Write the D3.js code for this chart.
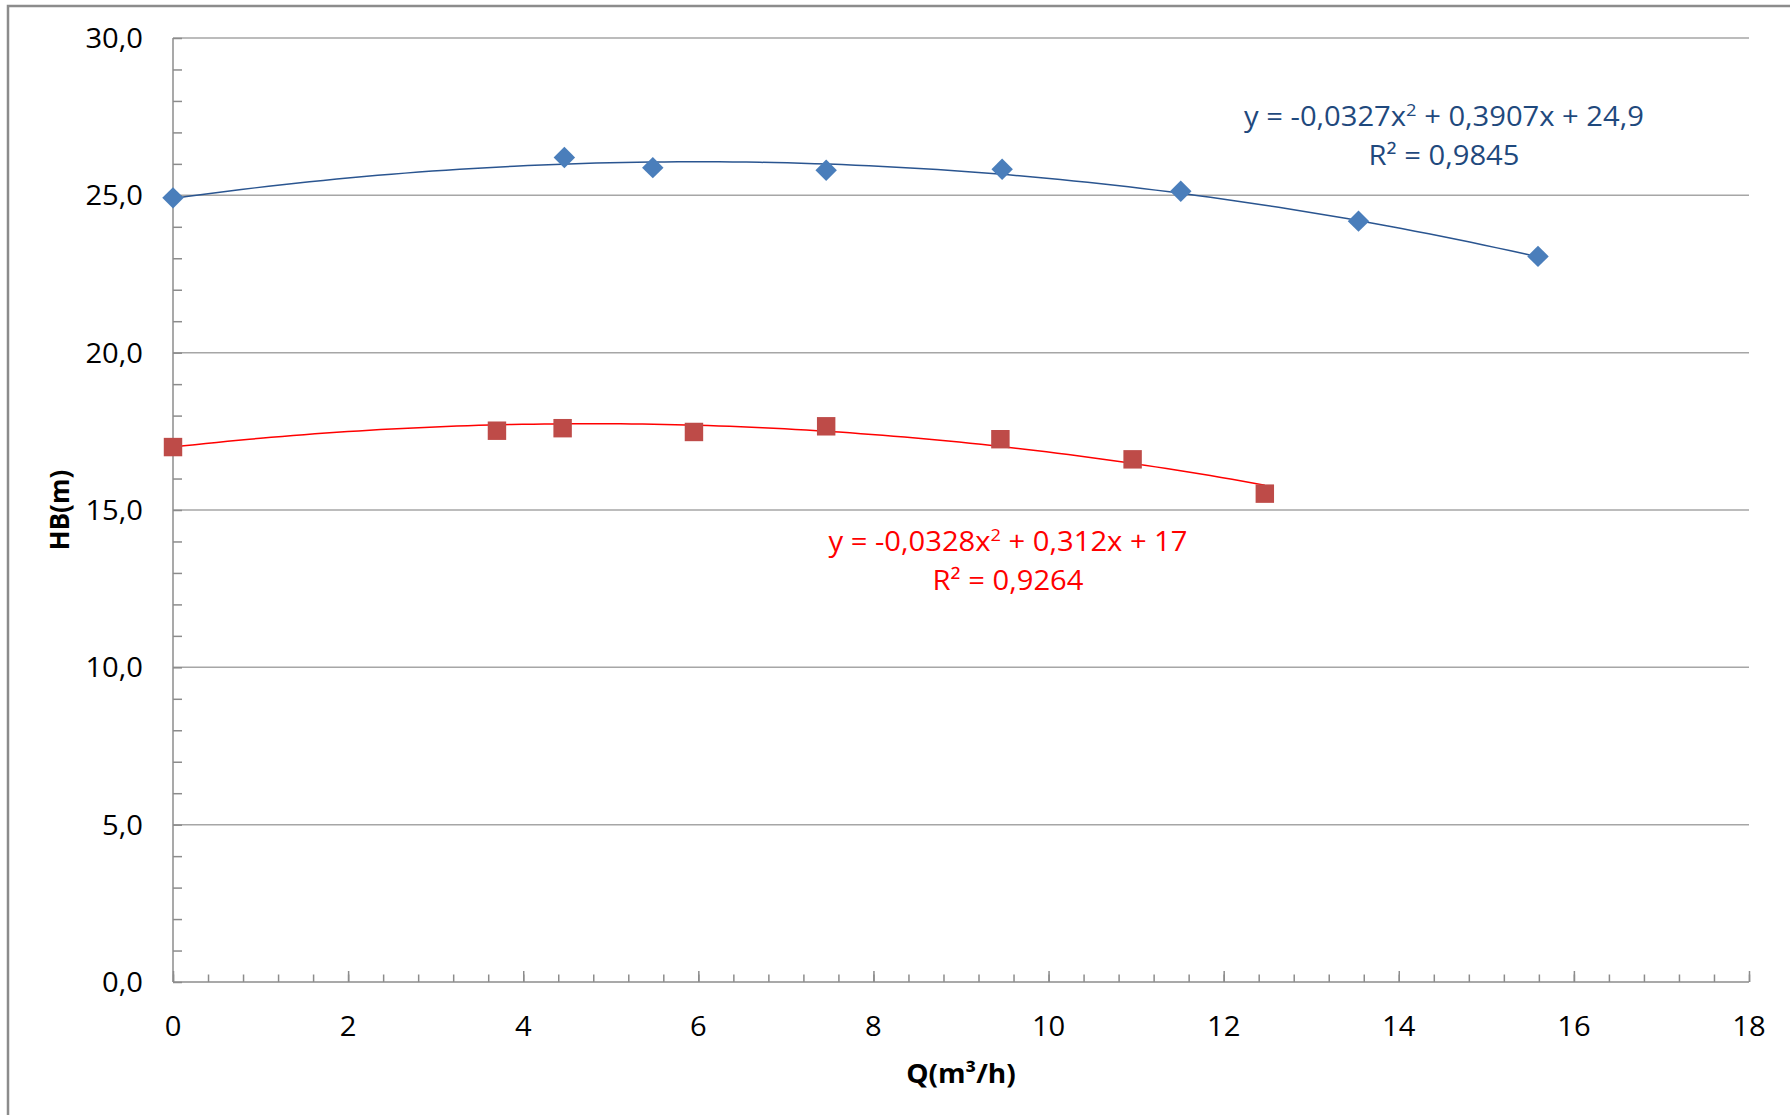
<!DOCTYPE html>
<html>
<head>
<meta charset="utf-8">
<script src="https://cdn.jsdelivr.net/npm/d3@7"></script>
<style>
  body { margin: 0; background: #fff; }
  svg { display: block; }
  text { font-family: "Open Sans", sans-serif; }
</style>
</head>
<body>
<script>
// data
let blueQ = [0, 4.47, 5.48, 7.46, 9.47, 11.51, 13.54, 15.59];
let blueH = [24.92, 26.2, 25.88, 25.8, 25.83, 25.13, 24.18, 23.06];
let redQ = [0, 3.70, 4.45, 5.95, 7.46, 9.45, 10.96, 12.47];
let redH = [17.0, 17.52, 17.6, 17.48, 17.66, 17.25, 16.61, 15.52];

// trendline coefficients (a, b, c) as printed on the chart
let blueFit = [-0.0327, 0.3907, 24.9];
let redFit = [-0.0328, 0.312, 17];
let blueEq = ["y = -0,0327x", "2", " + 0,3907x + 24,9"];
let blueR2 = "R² = 0,9845";
let redEq = ["y = -0,0328x", "2", " + 0,312x + 17"];
let redR2 = "R² = 0,9264";

let yTicks = [0, 5, 10, 15, 20, 25, 30];
let yTickLabels = ["0,0", "5,0", "10,0", "15,0", "20,0", "25,0", "30,0"];
let xTicks = [0, 2, 4, 6, 8, 10, 12, 14, 16, 18];
let xTickLabels = ["0", "2", "4", "6", "8", "10", "12", "14", "16", "18"];

let W = 1790, H = 1115;
let margin = { top: 38, right: 41, bottom: 133, left: 173 },
    width = W - margin.left - margin.right,
    height = H - margin.top - margin.bottom;

let sx = 1.08; // text in the picture is a bit wider than tall

let svg = d3.select("body").append("svg")
    .attr("width", W)
    .attr("height", H);

// outer chart border (runs off right and bottom)
svg.append("rect")
    .attr("x", 8).attr("y", 6)
    .attr("width", W).attr("height", H)
    .attr("fill", "none")
    .attr("stroke", "#8c8c8c")
    .attr("stroke-width", 2.5);

let g = svg.append("g")
    .attr("transform", "translate(" + margin.left + "," + margin.top + ")");

let x = d3.scaleLinear().domain([0, 18]).range([0, width]);
let y = d3.scaleLinear().domain([0, 30]).range([height, 0]);

function label(parent, px, py, size, color, weight, anchor) {
    return parent.append("text")
        .attr("transform", "translate(" + px + "," + py + ") scale(" + sx + ",1)")
        .attr("text-anchor", anchor || "middle")
        .attr("font-size", size)
        .attr("font-weight", weight || "normal")
        .attr("fill", color);
}

// horizontal gridlines
g.selectAll(".grid")
    .data(yTicks.filter(d => d > 0))
  .enter().append("line")
    .attr("class", "grid")
    .attr("x1", 0).attr("x2", width)
    .attr("y1", d => y(d)).attr("y2", d => y(d))
    .attr("stroke", "#a6a6a6")
    .attr("stroke-width", 1.5);

// y axis: minor ticks every 1 inside the plot
g.append("g")
    .call(d3.axisRight(y).tickValues(d3.range(0, 31, 1)).tickSize(9).tickFormat(""))
    .call(a => a.select(".domain").remove())
    .selectAll("line").attr("stroke", "#8c8c8c").attr("stroke-width", 1.5);

// x axis: minor ticks every 0.4, major every 2, pointing up
g.append("g")
    .attr("transform", "translate(0," + height + ")")
    .call(d3.axisTop(x).tickValues(d3.range(0, 18.01, 0.4)).tickSize(7.5).tickFormat(""))
    .call(a => a.select(".domain").remove())
    .selectAll("line").attr("stroke", "#8c8c8c").attr("stroke-width", 1.5);
g.append("g")
    .attr("transform", "translate(0," + height + ")")
    .call(d3.axisTop(x).tickValues(xTicks).tickSize(11).tickFormat(""))
    .call(a => a.select(".domain").remove())
    .selectAll("line").attr("stroke", "#8c8c8c").attr("stroke-width", 1.5);

// axis lines
g.append("line").attr("x1", 0).attr("x2", 0).attr("y1", 0).attr("y2", height)
    .attr("stroke", "#8c8c8c").attr("stroke-width", 1.5);
g.append("line").attr("x1", 0).attr("x2", width).attr("y1", height).attr("y2", height)
    .attr("stroke", "#8c8c8c").attr("stroke-width", 1.5);

// tick labels
yTicks.forEach((v, i) => {
    label(g, -30, y(v) + 10, 27, "#000", "normal", "end").text(yTickLabels[i]);
});
xTicks.forEach((v, i) => {
    label(g, x(v), height + 54, 27, "#000").text(xTickLabels[i]);
});

// axis titles
label(g, width / 2, height + 101, 26, "#000", "bold").text("Q(m³/h)");
g.append("text")
    .attr("transform", "translate(-104," + height / 2 + ") rotate(-90)")
    .attr("text-anchor", "middle")
    .attr("font-size", 26)
    .attr("font-weight", "bold")
    .text("HB(m)");

// trendlines
function curve(fit, xmax) {
    return d3.range(0, xmax + 0.001, xmax / 100).map(q => [q, fit[0] * q * q + fit[1] * q + fit[2]]);
}
let line = d3.line().x(d => x(d[0])).y(d => y(d[1]));

g.append("path")
    .datum(curve(blueFit, d3.max(blueQ)))
    .attr("d", line)
    .attr("fill", "none")
    .attr("stroke", "#2a5590")
    .attr("stroke-width", 1.5);
g.append("path")
    .datum(curve(redFit, d3.max(redQ)))
    .attr("d", line)
    .attr("fill", "none")
    .attr("stroke", "#ff0000")
    .attr("stroke-width", 1.5);

// markers
let blue = blueQ.map((q, i) => ({ q: q, h: blueH[i] }));
let red = redQ.map((q, i) => ({ q: q, h: redH[i] }));

g.selectAll(".diamond")
    .data(blue)
  .enter().append("path")
    .attr("class", "diamond")
    .attr("transform", d => "translate(" + x(d.q) + "," + y(d.h) + ") rotate(45)")
    .attr("d", d3.symbol().type(d3.symbolSquare).size(230))
    .attr("fill", "#4a7ebb");

g.selectAll(".square")
    .data(red)
  .enter().append("path")
    .attr("class", "square")
    .attr("transform", d => "translate(" + x(d.q) + "," + y(d.h) + ")")
    .attr("d", d3.symbol().type(d3.symbolSquare).size(340))
    .attr("fill", "#be4b48");

// equation labels
function equation(parts, r2, cx, by, color) {
    let t = label(svg, cx, by, 27, color);
    t.append("tspan").text(parts[0]);
    t.append("tspan").attr("font-size", 17).attr("dy", -10).text(parts[1]);
    t.append("tspan").attr("dy", 10).text(parts[2]);
    label(svg, cx, by + 39, 27, color).text(r2);
}
equation(blueEq, blueR2, 1444, 126, "#1f497d");
equation(redEq, redR2, 1008, 551, "#ff0000");
</script>
</body>
</html>
